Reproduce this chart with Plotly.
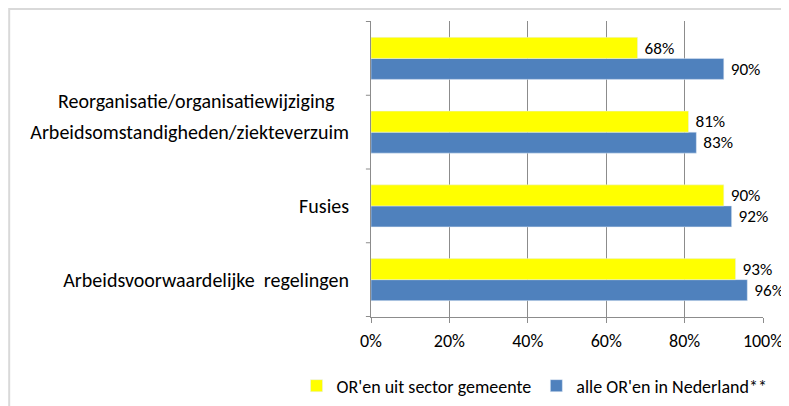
import plotly.graph_objects as go

# categories bottom to top (plotly draws the first category at the bottom)
categories = ["Arbeidsvoorwaardelijke  regelingen", "Fusies",
              "Arbeidsomstandigheden/ziekteverzuim",
              "Reorganisatie/organisatiewijziging"]
gemeente = [0.93, 0.90, 0.81, 0.68]
nederland = [0.96, 0.92, 0.83, 0.90]
x_ticks = [0, 0.2, 0.4, 0.6, 0.8, 1.0]
x_labels = ["0%", "20%", "40%", "60%", "80%", "100%"]

font = "Calibri, Carlito, Lato, sans-serif"

fig = go.Figure()

# blue first so that yellow sits on top inside each group
fig.add_trace(go.Bar(
    y=categories, x=nederland, orientation="h",
    name="alle OR'en in Nederland**",
    marker=dict(color="#4F81BD"),
    text=["\u00a0%d%%" % round(v * 100) for v in nederland],
    textposition="outside", cliponaxis=False,
    textfont=dict(size=18, color="#000000"),
    legendrank=2,
))
fig.add_trace(go.Bar(
    y=categories, x=gemeente, orientation="h",
    name="OR'en uit sector gemeente",
    marker=dict(color="#FFFF00"),
    text=["\u00a0%d%%" % round(v * 100) for v in gemeente],
    textposition="outside", cliponaxis=False,
    textfont=dict(size=18, color="#000000"),
    legendrank=1,
))

# page body adds an 8px offset, so the figure is 8px smaller each way
fig.update_layout(
    width=781, height=398,
    margin=dict(l=363, r=26, t=13, b=89, autoexpand=False),
    paper_bgcolor="white", plot_bgcolor="white",
    font=dict(family=font, size=18, color="#000000"),
    barmode="group", bargap=0.43, bargroupgap=0,
    showlegend=True,
    legend=dict(orientation="h", x=-0.19, xanchor="left", y=-0.233,
                yanchor="middle", font=dict(size=18),
                traceorder="normal", itemwidth=30),
    xaxis=dict(range=[0, 1], tickvals=x_ticks, ticktext=x_labels,
               tickfont=dict(size=18),
               showgrid=True, gridcolor="#8C8C8C", gridwidth=1,
               showline=True, linecolor="#8C8C8C", linewidth=1,
               ticks="outside", ticklen=5, tickcolor="#8C8C8C",
               ticklabelstandoff=2, automargin=False,
               zeroline=False, fixedrange=True),
    yaxis=dict(categoryorder="array", categoryarray=categories,
               tickvals=categories[:3], ticktext=categories[:3],
               tickfont=dict(size=20),
               showline=True, linecolor="#8C8C8C", linewidth=1,
               showgrid=False, ticks="", ticklabelstandoff=17,
               automargin=False, fixedrange=True),
)

# top category label sits displaced in the original
fig.add_annotation(x=0, xref="paper", xanchor="right", xshift=-34,
                   y=2.42, yref="y", text=categories[3], showarrow=False,
                   font=dict(size=20))

# outside ticks on the category axis at the group boundaries
for b in [-0.5, 0.5, 1.5, 2.5, 3.5]:
    fig.add_shape(type="line", xref="paper", yref="y", x0=-0.013, x1=0,
                  y0=b, y1=b, line=dict(color="#8C8C8C", width=1))

# chart frame
fig.add_shape(type="rect", xref="paper", yref="paper",
              x0=-0.923, x1=1.1, y0=-0.5, y1=1.0405,
              line=dict(color="#D9D9D9", width=2), layer="below")

fig.write_html("out.html")
